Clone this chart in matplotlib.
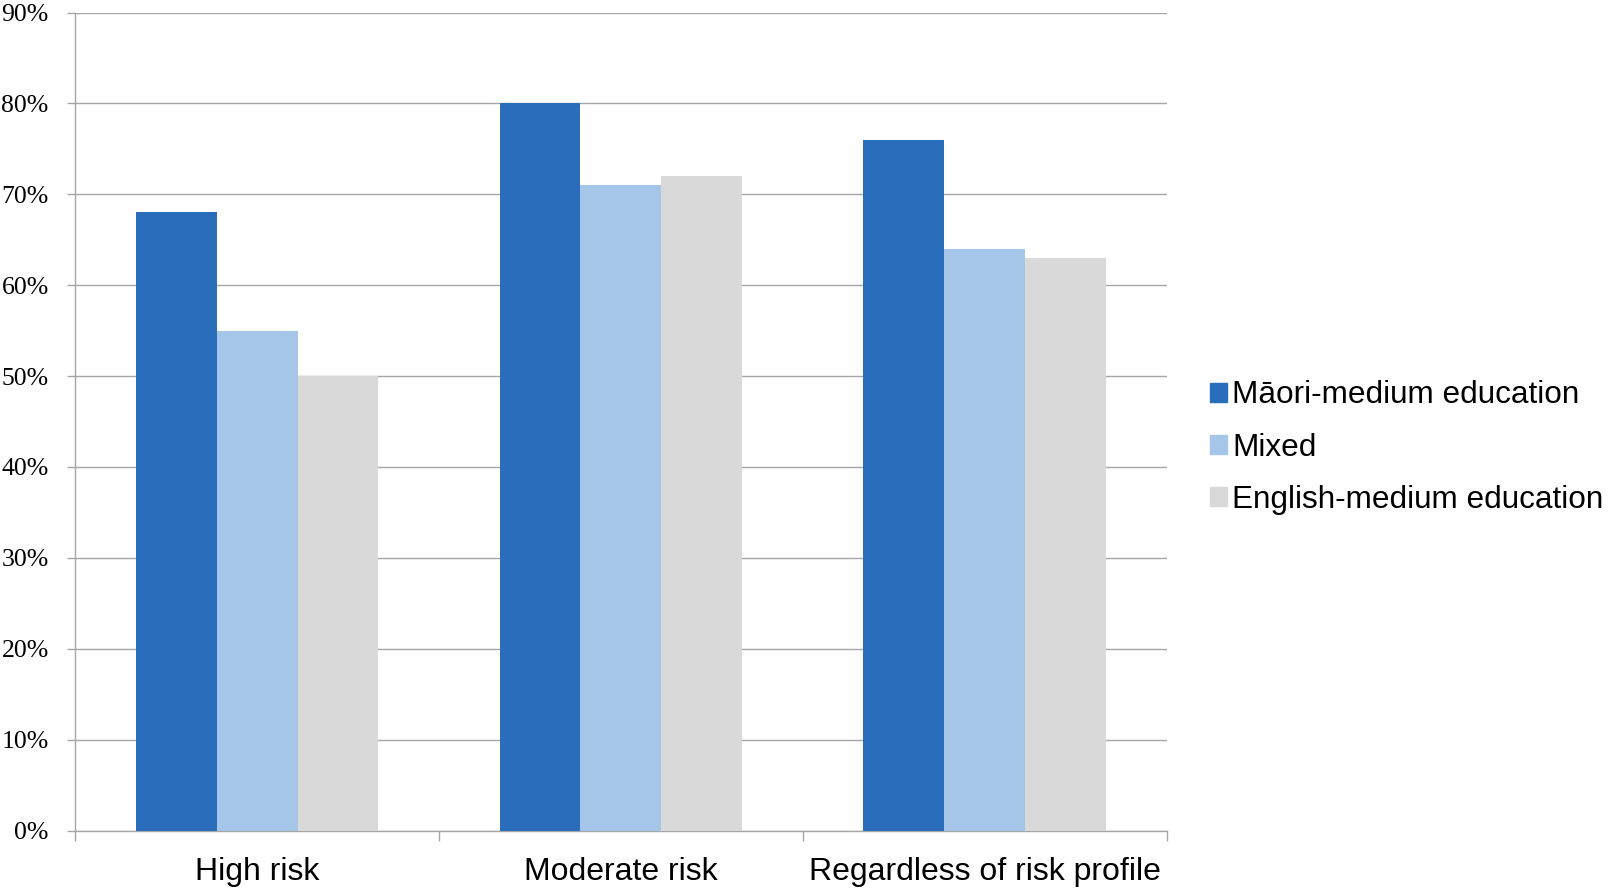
import numpy as np
import matplotlib.pyplot as plt
from matplotlib.patches import Patch

# data
categories = ["High risk", "Moderate risk", "Regardless of risk profile"]
series_names = ["Māori-medium education", "Mixed", "English-medium education"]
maori = [68, 80, 76]
mixed = [55, 71, 64]
english = [50, 72, 63]
colors = ["#2A6EBB", "#A5C6E9", "#D9D9D9"]

fig = plt.figure(figsize=(16.1, 8.88), dpi=100)
ax = fig.add_axes([0.0466, 0.0647, 0.6782, 0.9212])

x = np.arange(len(categories))
w = 0.2225
for i, vals in enumerate([maori, mixed, english]):
    ax.bar(x + (i - 1) * w, vals, w, color=colors[i], zorder=3)

ax.set_xlim(-0.5, 2.5)
ax.set_ylim(0, 90)

# gridlines + y ticks
ax.set_yticks(np.arange(0, 91, 10))
ax.set_yticklabels([f"{v}%" for v in range(0, 91, 10)], family="Liberation Serif", fontsize=18.5)
ax.yaxis.grid(True, color="#A6A6A6", linewidth=1.0, zorder=0)
ax.tick_params(axis="y", length=6, width=1.0, color="#A6A6A6", pad=13)

# category boundaries as ticks, names as minor labels
ax.set_xticks([-0.5, 0.5, 1.5, 2.5])
ax.set_xticklabels([])
ax.tick_params(axis="x", which="major", length=7, width=1.0, color="#A6A6A6")
ax.set_xticks(x, minor=True)
ax.set_xticklabels(categories, minor=True, family="Liberation Sans", fontsize=23)
ax.tick_params(axis="x", which="minor", length=0, pad=19)

for s in ["top", "right"]:
    ax.spines[s].set_visible(False)
for s in ["left", "bottom"]:
    ax.spines[s].set_color("#A6A6A6")
    ax.spines[s].set_linewidth(1.0)

handles = [Patch(color=c) for c in colors]
fig.legend(handles, series_names, loc="center left", bbox_to_anchor=(0.7515, 0.496),
           frameon=False, prop={"family": "Liberation Sans", "size": 22.7},
           handlelength=0.53, handleheight=0.53, handletextpad=0.18, labelspacing=0.7,
           borderaxespad=0, borderpad=0)

fig.savefig("out.png", dpi=100)
